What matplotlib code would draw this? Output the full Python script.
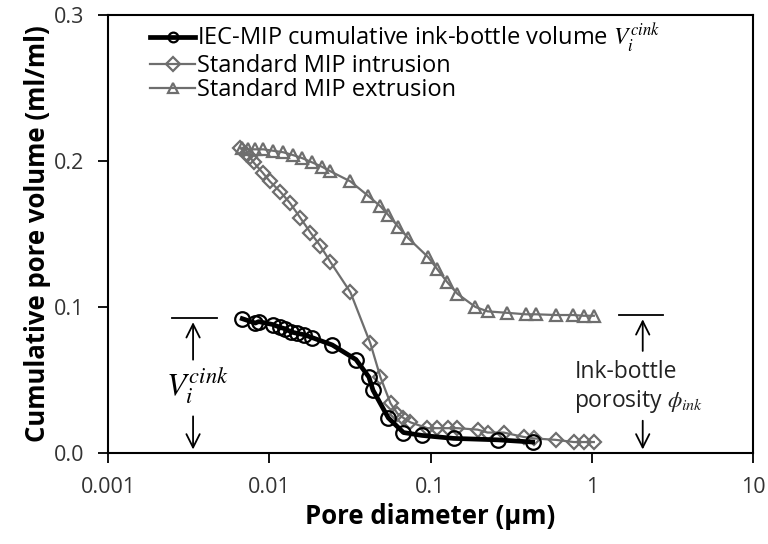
import matplotlib.pyplot as plt
from matplotlib.ticker import FixedLocator, FixedFormatter, NullLocator

plt.rcParams['font.family'] = ['Open Sans', 'DejaVu Sans']
plt.rcParams['mathtext.fontset'] = 'stix'

# IEC-MIP cumulative ink-bottle volume
iec_d = [0.0068, 0.0082, 0.0086, 0.0105, 0.0117, 0.0126, 0.0136, 0.0148, 0.0165,
         0.0185, 0.0246, 0.0345, 0.0415, 0.0440, 0.0548, 0.068, 0.089, 0.139,
         0.261, 0.430]
iec_v = [0.092, 0.089, 0.090, 0.088, 0.086, 0.085, 0.083, 0.082, 0.081,
         0.079, 0.074, 0.064, 0.052, 0.043, 0.024, 0.014, 0.012, 0.010,
         0.009, 0.0075]

# standard MIP intrusion
intr_d = [0.0066, 0.0072, 0.0076, 0.0080, 0.0091, 0.0101, 0.0117, 0.0135, 0.0156,
          0.0180, 0.0207, 0.0239, 0.0319, 0.0424, 0.0489, 0.0565, 0.0624, 0.0680,
          0.0751, 0.0957, 0.110, 0.129, 0.147, 0.196, 0.226, 0.284, 0.378, 0.436,
          0.598, 0.773, 0.891, 1.03]
intr_v = [0.209, 0.205, 0.203, 0.199, 0.192, 0.186, 0.179, 0.171, 0.161,
          0.151, 0.142, 0.131, 0.110, 0.075, 0.052, 0.034, 0.027, 0.024,
          0.021, 0.017, 0.017, 0.017, 0.017, 0.016, 0.014, 0.014, 0.011, 0.010,
          0.009, 0.0075, 0.0075, 0.0075]

# standard MIP extrusion
extr_d = [0.0068, 0.0074, 0.0082, 0.0092, 0.0106, 0.0122, 0.0141, 0.0160, 0.0185,
          0.0213, 0.0239, 0.0319, 0.0412, 0.0489, 0.0548, 0.063, 0.073, 0.097,
          0.110, 0.127, 0.147, 0.190, 0.226, 0.30, 0.39, 0.45, 0.60, 0.77,
          0.89, 1.03]
extr_v = [0.209, 0.208, 0.208, 0.208, 0.207, 0.206, 0.204, 0.202, 0.199,
          0.196, 0.193, 0.186, 0.176, 0.169, 0.163, 0.155, 0.147, 0.134,
          0.126, 0.117, 0.109, 0.100, 0.097, 0.096, 0.095, 0.095, 0.0945, 0.0945,
          0.094, 0.094]

x_ticks = [0.001, 0.01, 0.1, 1, 10]
x_labels = ['0.001', '0.01', '0.1', '1', '10']
y_ticks = [0.0, 0.1, 0.2, 0.3]
y_labels = ['0.0', '0.1', '0.2', '0.3']

gray = '#6e6e6e'

fig = plt.figure(figsize=(7.68, 5.44), dpi=100)
ax = fig.add_axes([0.1406, 0.1673, 0.8399, 0.8051])

ax.plot(iec_d, iec_v, color='black', lw=3.4, marker='o', ms=10.5, mfc='none',
        mec='black', mew=1.6, label='IEC-MIP cumulative ink-bottle volume $V_i^{cink}$',
        zorder=3)
ax.plot(intr_d, intr_v, color=gray, lw=1.6, marker='D', ms=7, mfc='none',
        mec=gray, mew=1.6, label='Standard MIP intrusion', zorder=2)
ax.plot(extr_d, extr_v, color=gray, lw=1.6, marker='^', ms=8, mfc='none',
        mec=gray, mew=1.6, label='Standard MIP extrusion', zorder=2)

ax.set_xscale('log')
ax.set_xlim(0.001, 10)
ax.set_ylim(0, 0.3)
ax.xaxis.set_major_locator(FixedLocator(x_ticks))
ax.xaxis.set_major_formatter(FixedFormatter(x_labels))
ax.xaxis.set_minor_locator(NullLocator())
ax.yaxis.set_major_locator(FixedLocator(y_ticks))
ax.yaxis.set_major_formatter(FixedFormatter(y_labels))
ax.tick_params(axis='both', direction='out', length=7, width=1.3,
               labelsize=15.5, colors='black', labelcolor='#333333')
ax.tick_params(axis='x', pad=10)
ax.tick_params(axis='y', pad=10)
for s in ax.spines.values():
    s.set_linewidth(1.5)

ax.set_xlabel('Pore diameter (µm)', fontsize=18.5, fontweight='bold', labelpad=4)
ax.set_ylabel('Cumulative pore volume (ml/ml)', fontsize=18.5, fontweight='bold',
              labelpad=2)

leg = ax.legend(loc='upper left', bbox_to_anchor=(0.036, 1.028), frameon=False,
                fontsize=17, handlelength=1.9, handletextpad=0.1,
                labelspacing=0.0, borderpad=0.3)
for h in leg.legend_handles:
    h.set_markersize(7)

# left annotation: ink-bottle volume
arr = dict(arrowstyle='->', color='black', lw=1.3, mutation_scale=24)
ax.plot([0.0025, 0.00475], [0.0925, 0.0925], color='black', lw=1.3)
ax.annotate('', xy=(0.00337, 0.0915), xytext=(0.00337, 0.062), arrowprops=arr)
ax.annotate('', xy=(0.00337, 0.0005), xytext=(0.00337, 0.027), arrowprops=arr)
ax.text(0.0036, 0.045, '$V_i^{cink}$', fontsize=23, ha='center', va='center')

# right annotation: ink-bottle porosity
ax.plot([1.47, 2.76], [0.0945, 0.0945], color='black', lw=1.3)
ax.annotate('', xy=(2.07, 0.0935), xytext=(2.07, 0.068), arrowprops=arr)
ax.annotate('', xy=(2.07, 0.0005), xytext=(2.07, 0.024), arrowprops=arr)
ax.text(0.78, 0.045, 'Ink-bottle\nporosity $\\phi_{ink}$', fontsize=16.5,
        ha='left', va='center', color='#222222', linespacing=1.2)

fig.savefig('out.png', dpi=100)
